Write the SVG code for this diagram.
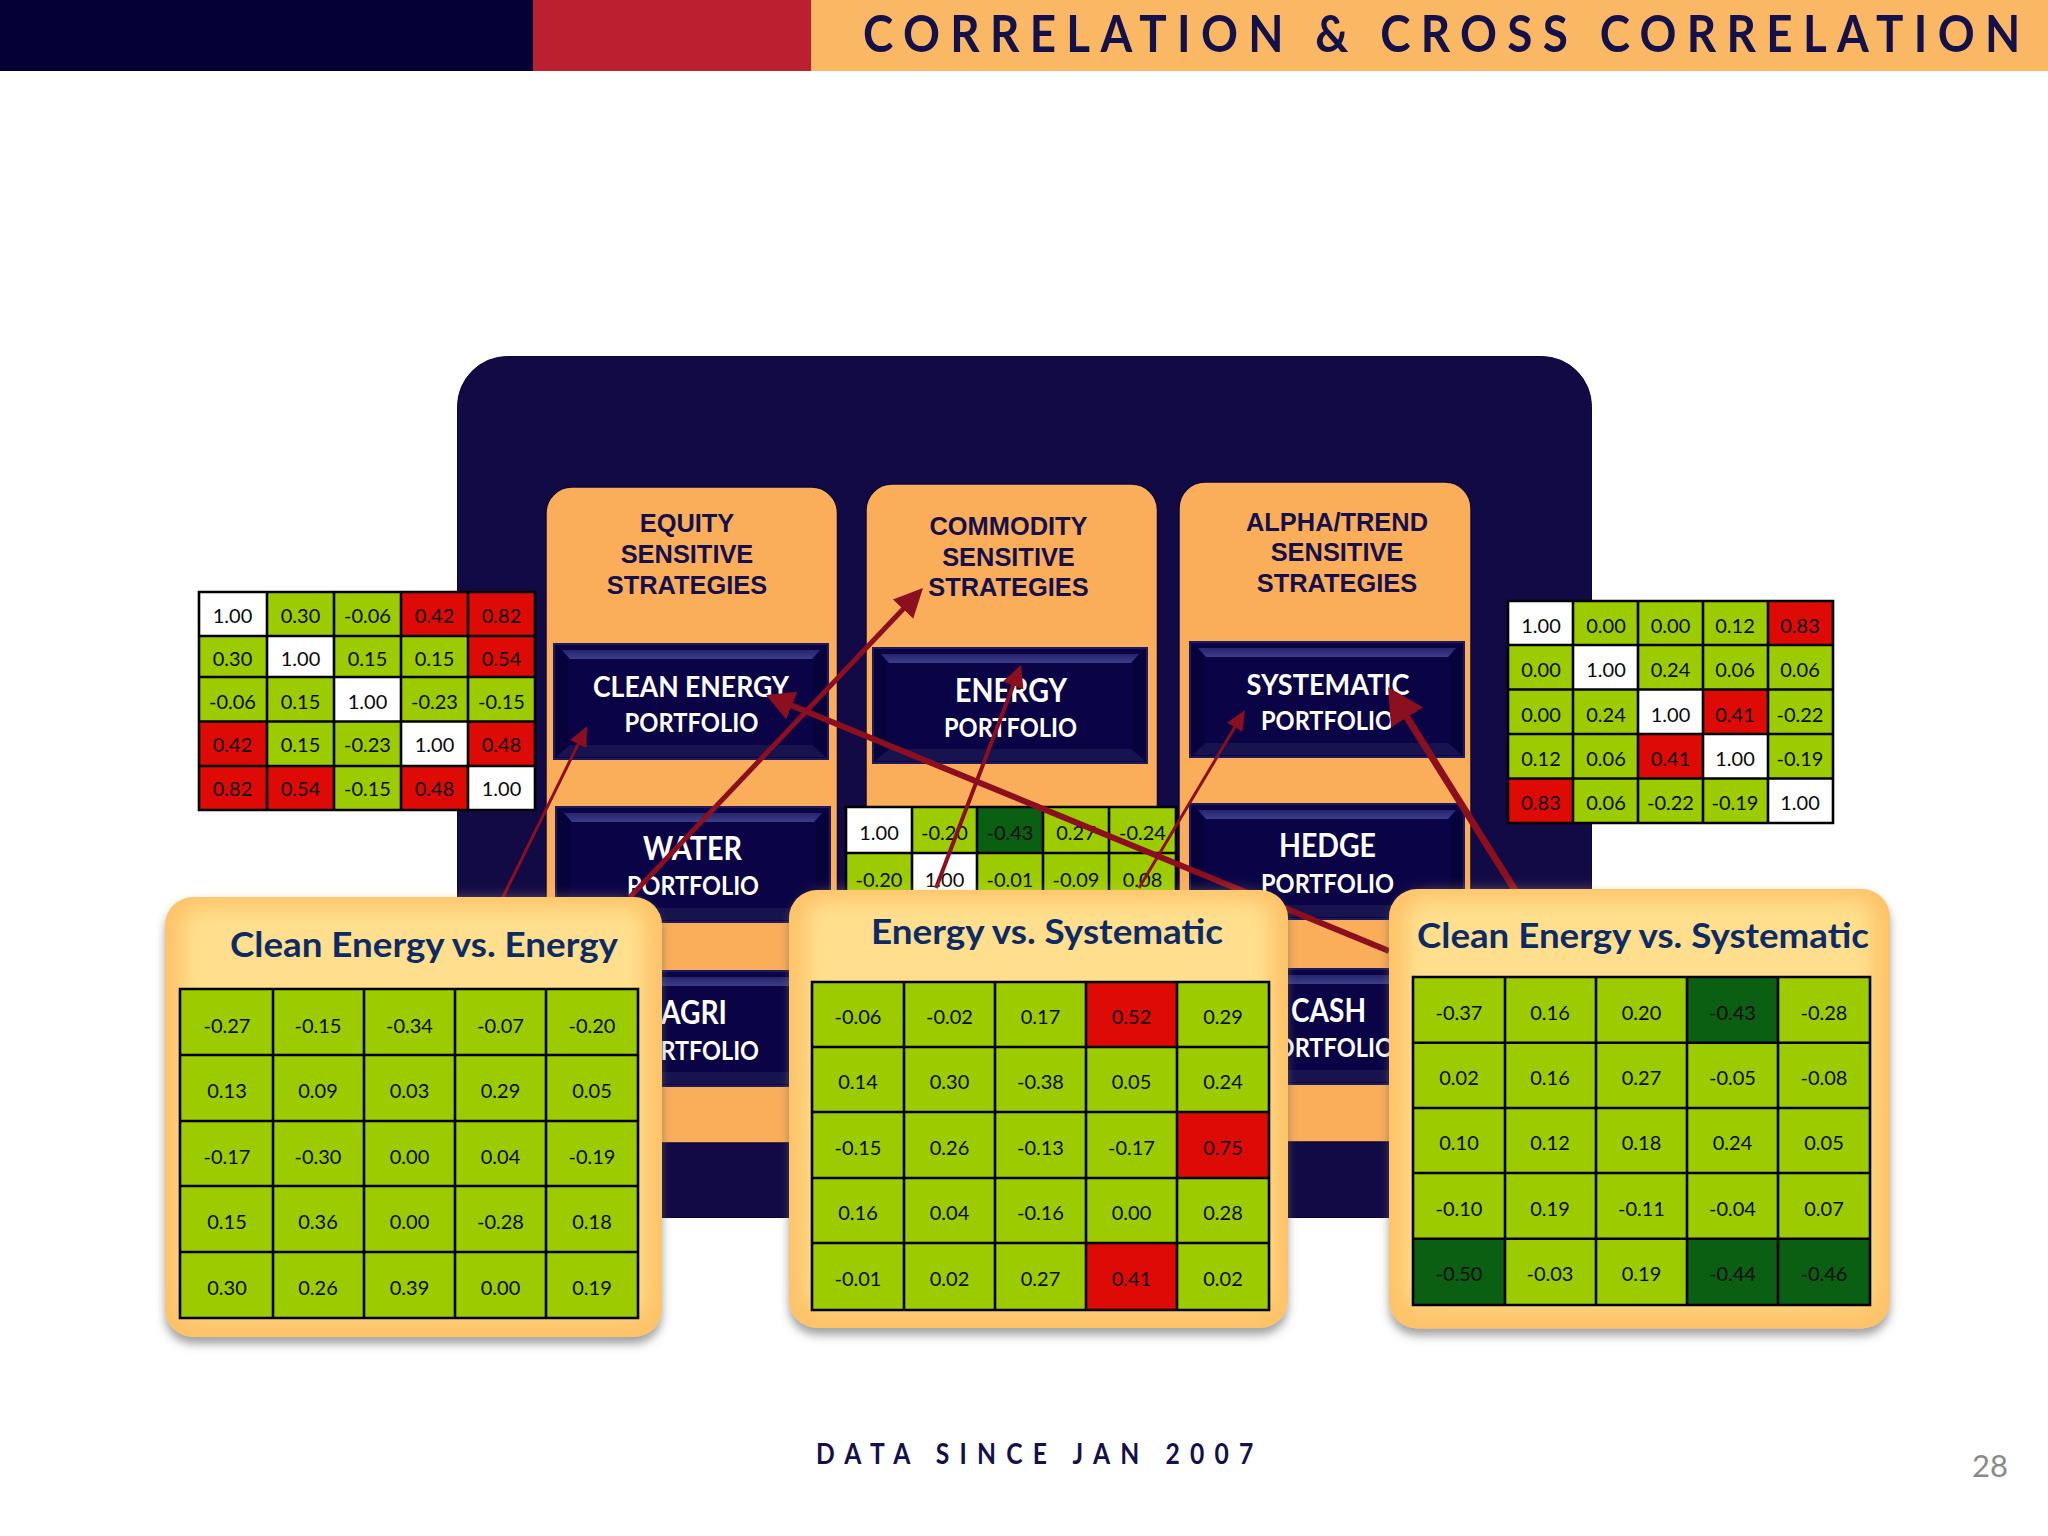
<svg xmlns="http://www.w3.org/2000/svg" xmlns:xlink="http://www.w3.org/1999/xlink" width="2048" height="1536" viewBox="0 0 2048 1536">
<style>
text{font-family:"Lato","Open Sans",sans-serif}
.n{font-size:20px;fill:#0a0a0a;text-anchor:middle}
.h{font-family:"Liberation Sans",Arial,sans-serif;font-size:25.4px;font-weight:700;fill:#15104d;text-anchor:middle}
.b{font-size:29px;font-weight:700;fill:#fff;text-anchor:middle}
.p{font-size:26px;font-weight:700;fill:#fff;text-anchor:middle}
.t{font-size:34px;font-weight:700;fill:#0c2b66;text-anchor:middle}
.g{fill:#9ccc00}.r{fill:#dd0a05}.w{fill:#fff}.d{fill:#0a5f12}
.grid{fill:none;stroke:#000;stroke-width:2.6}
.col{fill:#fbae5a;stroke:#0c0640;stroke-width:1.5}
.a{stroke:#8b0f1f;fill:none}
.ah{fill:#8b0f1f}
</style>
<defs>
<linearGradient id="topb" x1="0" y1="0" x2="0" y2="1"><stop offset="0" stop-color="#26266e"/><stop offset="1" stop-color="#3c3c88"/></linearGradient>
<filter id="sh" x="-5%" y="-5%" width="110%" height="112%"><feDropShadow dx="0" dy="7" stdDeviation="5" flood-color="#555" flood-opacity=".55"/></filter>
<filter id="bl" x="-10%" y="-10%" width="120%" height="120%"><feGaussianBlur stdDeviation="10"/></filter>
<g id="bevel">
<rect width="274" height="115" fill="#0a0345"/>
<rect width="274" height="115" fill="none" stroke="#1c1a5c" stroke-width="2"/>
<polygon points="8,6 266,6 258,15 16,15" fill="url(#topb)"/>
<polygon points="2,113 272,113 258,101 16,101" fill="#17134f"/>
<polygon points="2,2 14,15 14,100 2,113" fill="#06023a"/>
<polygon points="272,2 260,15 260,100 272,113" fill="#06023a"/>
</g>
<marker id="m1" markerUnits="userSpaceOnUse" markerWidth="24" markerHeight="20" refX="4" refY="10" orient="auto"><path class="ah" d="M0,1 L20,10 L0,19z"/></marker>
<marker id="m2" markerUnits="userSpaceOnUse" markerWidth="32" markerHeight="30" refX="4" refY="15" orient="auto"><path class="ah" d="M0,1 L29,15 L0,29z"/></marker>
<marker id="m3" markerUnits="userSpaceOnUse" markerWidth="26" markerHeight="24" refX="4" refY="12" orient="auto"><path class="ah" d="M0,1 L22,12 L0,23z"/></marker>
<marker id="m5" markerUnits="userSpaceOnUse" markerWidth="40" markerHeight="40" refX="4" refY="20" orient="auto"><path class="ah" d="M0,1 L36,20 L0,39z"/></marker>
<marker id="m6" markerUnits="userSpaceOnUse" markerWidth="32" markerHeight="32" refX="4" refY="16" orient="auto"><path class="ah" d="M0,1 L28,16 L0,31z"/></marker>
</defs>
<rect width="2048" height="1536" fill="#fff"/>
<g id="header">
<rect x="0" y="0" width="533" height="71" fill="#050035"/>
<rect x="533" y="0" width="278" height="71" fill="#ba2030"/>
<rect x="811" y="0" width="1237" height="71" fill="#fbb864"/>
<text transform="translate(863 52) scale(.88 1)" font-size="52" font-weight="700" fill="#14104a" textLength="1315" lengthAdjust="spacing">CORRELATION &amp; CROSS CORRELATION</text>
</g>
<rect id="panel" x="457.5" y="356.5" width="1134" height="861" rx="50" fill="#120a45" stroke="#0a0340" stroke-width="1"/>
<g id="col-equity"><rect class="col" x="546" y="487" width="291.5" height="656" rx="26"/>
<text class="h" x="687" y="532">EQUITY</text><text class="h" x="687" y="563">SENSITIVE</text><text class="h" x="687" y="594">STRATEGIES</text></g>
<g id="col-commodity"><rect class="col" x="866" y="484" width="291.5" height="659" rx="26"/>
<text class="h" x="1008.5" y="535">COMMODITY</text><text class="h" x="1008.5" y="566">SENSITIVE</text><text class="h" x="1008.5" y="596">STRATEGIES</text></g>
<g id="col-alpha"><rect class="col" x="1179" y="482" width="292" height="660" rx="26"/>
<text class="h" x="1337" y="531">ALPHA/TREND</text><text class="h" x="1337" y="561">SENSITIVE</text><text class="h" x="1337" y="592">STRATEGIES</text></g>
<g id="box-clean"><use xlink:href="#bevel" href="#bevel" x="554" y="644"/><text class="b" x="691" y="697" textLength="196" lengthAdjust="spacingAndGlyphs">CLEAN ENERGY</text><text class="p" x="691.5" y="732" textLength="134" lengthAdjust="spacingAndGlyphs">PORTFOLIO</text></g>
<g id="box-water"><use xlink:href="#bevel" href="#bevel" x="556" y="807"/><text class="b" x="692.5" y="860" style="font-size:32px" textLength="99" lengthAdjust="spacingAndGlyphs">WATER</text><text class="p" x="693" y="895" textLength="132" lengthAdjust="spacingAndGlyphs">PORTFOLIO</text></g>
<g id="box-agri"><use xlink:href="#bevel" href="#bevel" x="556" y="971"/><text class="b" x="694" y="1024" style="font-size:32px" textLength="66" lengthAdjust="spacingAndGlyphs">AGRI</text><text class="p" x="693" y="1060" textLength="132" lengthAdjust="spacingAndGlyphs">PORTFOLIO</text></g>
<g id="box-energy"><use xlink:href="#bevel" href="#bevel" x="873" y="648"/><text class="b" x="1011" y="702" style="font-size:32px" textLength="112" lengthAdjust="spacingAndGlyphs">ENERGY</text><text class="p" x="1010.5" y="737" textLength="133" lengthAdjust="spacingAndGlyphs">PORTFOLIO</text></g>
<g id="box-systematic"><use xlink:href="#bevel" href="#bevel" x="1190" y="642"/><text class="b" x="1328" y="695" textLength="163" lengthAdjust="spacingAndGlyphs">SYSTEMATIC</text><text class="p" x="1327.5" y="730" textLength="133" lengthAdjust="spacingAndGlyphs">PORTFOLIO</text></g>
<g id="box-hedge"><use xlink:href="#bevel" href="#bevel" x="1190" y="804"/><text class="b" x="1327.5" y="857" style="font-size:32px" textLength="97" lengthAdjust="spacingAndGlyphs">HEDGE</text><text class="p" x="1327.5" y="893" textLength="133" lengthAdjust="spacingAndGlyphs">PORTFOLIO</text></g>
<g id="box-cash"><use xlink:href="#bevel" href="#bevel" x="1190" y="969"/><text class="b" x="1328.5" y="1022" style="font-size:32px" textLength="75" lengthAdjust="spacingAndGlyphs">CASH</text><text class="p" x="1327.5" y="1057" textLength="133" lengthAdjust="spacingAndGlyphs">PORTFOLIO</text></g>

<g id="table-left">
<rect class="g" x="199" y="592" width="336" height="218"/>
<rect class="w" x="199" y="592" width="68" height="44"/><rect class="w" x="267" y="636" width="67" height="41"/><rect class="w" x="334" y="677" width="67" height="44.5"/><rect class="w" x="401" y="721.5" width="67" height="44.5"/><rect class="w" x="468" y="766" width="67" height="44"/>
<rect class="r" x="401" y="592" width="134" height="44"/><rect class="r" x="468" y="636" width="67" height="41"/><rect class="r" x="199" y="721.5" width="68" height="44.5"/><rect class="r" x="468" y="721.5" width="67" height="44.5"/><rect class="r" x="199" y="766" width="135" height="44"/><rect class="r" x="401" y="766" width="67" height="44"/>
<path class="grid" d="M199,592H535V810H199ZM267,592V810M334,592V810M401,592V810M468,592V810M199,636H535M199,677H535M199,721.5H535M199,766H535"/>
<text class="n" x="232.5" y="623">1.00</text><text class="n" x="300.5" y="623">0.30</text><text class="n" x="367.5" y="623">-0.06</text><text class="n" x="434.5" y="623">0.42</text><text class="n" x="501.5" y="623">0.82</text>
<text class="n" x="232.5" y="666">0.30</text><text class="n" x="300.5" y="666">1.00</text><text class="n" x="367.5" y="666">0.15</text><text class="n" x="434.5" y="666">0.15</text><text class="n" x="501.5" y="666">0.54</text>
<text class="n" x="232.5" y="709">-0.06</text><text class="n" x="300.5" y="709">0.15</text><text class="n" x="367.5" y="709">1.00</text><text class="n" x="434.5" y="709">-0.23</text><text class="n" x="501.5" y="709">-0.15</text>
<text class="n" x="232.5" y="752">0.42</text><text class="n" x="300.5" y="752">0.15</text><text class="n" x="367.5" y="752">-0.23</text><text class="n" x="434.5" y="752">1.00</text><text class="n" x="501.5" y="752">0.48</text>
<text class="n" x="232.5" y="796">0.82</text><text class="n" x="300.5" y="796">0.54</text><text class="n" x="367.5" y="796">-0.15</text><text class="n" x="434.5" y="796">0.48</text><text class="n" x="501.5" y="796">1.00</text>
</g>

<g id="table-middle">
<rect class="g" x="846" y="807" width="330" height="90"/>
<rect class="w" x="846" y="807" width="66" height="46"/><rect class="w" x="912" y="853" width="65" height="44"/><rect class="d" x="977" y="807" width="66" height="46"/>
<path class="grid" d="M846,897V807H1176V897M912,807V897M977,807V897M1043,807V897M1109,807V897M846,853H1176"/>
<text class="n" x="879" y="840">1.00</text><text class="n" x="944.5" y="840">-0.20</text><text class="n" x="1010" y="840">-0.43</text><text class="n" x="1076" y="840">0.27</text><text class="n" x="1142.5" y="840">-0.24</text>
<text class="n" x="879" y="887">-0.20</text><text class="n" x="944.5" y="887">1.00</text><text class="n" x="1010" y="887">-0.01</text><text class="n" x="1076" y="887">-0.09</text><text class="n" x="1142.5" y="887">0.08</text>
</g>

<g id="table-right">
<rect class="g" x="1508" y="601" width="325" height="222"/>
<rect class="w" x="1508" y="601" width="65" height="44"/><rect class="w" x="1573" y="645" width="65" height="44.5"/><rect class="w" x="1638" y="689.5" width="65" height="44.5"/><rect class="w" x="1703" y="734" width="65" height="44.5"/><rect class="w" x="1768" y="778.5" width="65" height="44.5"/>
<rect class="r" x="1768" y="601" width="65" height="44"/><rect class="r" x="1703" y="689.5" width="65" height="44.5"/><rect class="r" x="1638" y="734" width="65" height="44.5"/><rect class="r" x="1508" y="778.5" width="65" height="44.5"/>
<path class="grid" d="M1508,601H1833V823H1508ZM1573,601V823M1638,601V823M1703,601V823M1768,601V823M1508,645H1833M1508,689.5H1833M1508,734H1833M1508,778.5H1833"/>
<text class="n" x="1541" y="633">1.00</text><text class="n" x="1606" y="633">0.00</text><text class="n" x="1670.5" y="633">0.00</text><text class="n" x="1735" y="633">0.12</text><text class="n" x="1800" y="633">0.83</text>
<text class="n" x="1541" y="677">0.00</text><text class="n" x="1606" y="677">1.00</text><text class="n" x="1670.5" y="677">0.24</text><text class="n" x="1735" y="677">0.06</text><text class="n" x="1800" y="677">0.06</text>
<text class="n" x="1541" y="721.5">0.00</text><text class="n" x="1606" y="721.5">0.24</text><text class="n" x="1670.5" y="721.5">1.00</text><text class="n" x="1735" y="721.5">0.41</text><text class="n" x="1800" y="721.5">-0.22</text>
<text class="n" x="1541" y="766">0.12</text><text class="n" x="1606" y="766">0.06</text><text class="n" x="1670.5" y="766">0.41</text><text class="n" x="1735" y="766">1.00</text><text class="n" x="1800" y="766">-0.19</text>
<text class="n" x="1541" y="810">0.83</text><text class="n" x="1606" y="810">0.06</text><text class="n" x="1670.5" y="810">-0.22</text><text class="n" x="1735" y="810">-0.19</text><text class="n" x="1800" y="810">1.00</text>
</g>

<g id="connectors">
<line class="a" stroke-width="3" x1="503" y1="897" x2="580" y2="740.4" marker-end="url(#m1)"/>
<line class="a" stroke-width="5" x1="630" y1="897" x2="905.8" y2="606.2" marker-end="url(#m2)"/>
<line class="a" stroke-width="4" x1="936" y1="888" x2="1014.6" y2="681.8" marker-end="url(#m3)"/>
<line class="a" stroke-width="3" x1="1139" y1="888" x2="1236.8" y2="723.8" marker-end="url(#m1)"/>
<line class="a" stroke-width="7" x1="1515" y1="890" x2="1405" y2="714.1" marker-end="url(#m5)"/>
<line class="a" stroke-width="6" x1="1389" y1="951" x2="788.2" y2="704.1" marker-end="url(#m6)"/>
</g>

<g id="card-1">
<rect x="165" y="897" width="497" height="440" rx="28" fill="#fdc369" filter="url(#sh)"/>
<rect x="182" y="907" width="463" height="409" rx="20" fill="#ffdf8d" filter="url(#bl)"/>
<text class="t" x="424" y="957" textLength="388" lengthAdjust="spacingAndGlyphs">Clean Energy vs. Energy</text>
<rect class="g" x="180" y="989" width="458" height="329"/>
<path class="grid" d="M180,989H638V1318H180ZM273,989V1318M364,989V1318M455,989V1318M546,989V1318M180,1055H638M180,1121H638M180,1186H638M180,1252H638"/>
<text class="n" x="227" y="1033">-0.27</text><text class="n" x="318" y="1033">-0.15</text><text class="n" x="409.5" y="1033">-0.34</text><text class="n" x="500.5" y="1033">-0.07</text><text class="n" x="592" y="1033">-0.20</text>
<text class="n" x="227" y="1098">0.13</text><text class="n" x="318" y="1098">0.09</text><text class="n" x="409.5" y="1098">0.03</text><text class="n" x="500.5" y="1098">0.29</text><text class="n" x="592" y="1098">0.05</text>
<text class="n" x="227" y="1164">-0.17</text><text class="n" x="318" y="1164">-0.30</text><text class="n" x="409.5" y="1164">0.00</text><text class="n" x="500.5" y="1164">0.04</text><text class="n" x="592" y="1164">-0.19</text>
<text class="n" x="227" y="1229">0.15</text><text class="n" x="318" y="1229">0.36</text><text class="n" x="409.5" y="1229">0.00</text><text class="n" x="500.5" y="1229">-0.28</text><text class="n" x="592" y="1229">0.18</text>
<text class="n" x="227" y="1295">0.30</text><text class="n" x="318" y="1295">0.26</text><text class="n" x="409.5" y="1295">0.39</text><text class="n" x="500.5" y="1295">0.00</text><text class="n" x="592" y="1295">0.19</text>
</g>

<g id="card-2">
<rect x="789" y="890" width="499" height="438" rx="28" fill="#fdc369" filter="url(#sh)"/>
<rect x="806" y="900" width="465" height="407" rx="20" fill="#ffdf8d" filter="url(#bl)"/>
<text class="t" x="1047" y="944" textLength="352" lengthAdjust="spacingAndGlyphs">Energy vs. Systematic</text>
<rect class="g" x="812" y="982" width="457" height="328"/>
<rect class="r" x="1086" y="982" width="91" height="65"/><rect class="r" x="1177" y="1112" width="92" height="66"/><rect class="r" x="1086" y="1243" width="91" height="67"/>
<path class="grid" d="M812,982H1269V1310H812ZM904,982V1310M995,982V1310M1086,982V1310M1177,982V1310M812,1047H1269M812,1112H1269M812,1178H1269M812,1243H1269"/>
<text class="n" x="858" y="1024">-0.06</text><text class="n" x="949.5" y="1024">-0.02</text><text class="n" x="1040.5" y="1024">0.17</text><text class="n" x="1131.5" y="1024">0.52</text><text class="n" x="1223" y="1024">0.29</text>
<text class="n" x="858" y="1089">0.14</text><text class="n" x="949.5" y="1089">0.30</text><text class="n" x="1040.5" y="1089">-0.38</text><text class="n" x="1131.5" y="1089">0.05</text><text class="n" x="1223" y="1089">0.24</text>
<text class="n" x="858" y="1155">-0.15</text><text class="n" x="949.5" y="1155">0.26</text><text class="n" x="1040.5" y="1155">-0.13</text><text class="n" x="1131.5" y="1155">-0.17</text><text class="n" x="1223" y="1155">0.75</text>
<text class="n" x="858" y="1220">0.16</text><text class="n" x="949.5" y="1220">0.04</text><text class="n" x="1040.5" y="1220">-0.16</text><text class="n" x="1131.5" y="1220">0.00</text><text class="n" x="1223" y="1220">0.28</text>
<text class="n" x="858" y="1286">-0.01</text><text class="n" x="949.5" y="1286">0.02</text><text class="n" x="1040.5" y="1286">0.27</text><text class="n" x="1131.5" y="1286">0.41</text><text class="n" x="1223" y="1286">0.02</text>
</g>

<g id="card-3">
<rect x="1389" y="889" width="501" height="439.5" rx="28" fill="#fdc369" filter="url(#sh)"/>
<rect x="1406" y="899" width="467" height="408" rx="20" fill="#ffdf8d" filter="url(#bl)"/>
<text class="t" x="1643" y="948" textLength="452" lengthAdjust="spacingAndGlyphs">Clean Energy vs. Systematic</text>
<rect class="g" x="1413" y="977" width="457" height="328"/>
<rect class="d" x="1687" y="977" width="91" height="65.7"/><rect class="d" x="1413" y="1238.7" width="92" height="66.3"/><rect class="d" x="1687" y="1238.7" width="183" height="66.3"/>
<path class="grid" d="M1413,977H1870V1305H1413ZM1505,977V1305M1596,977V1305M1687,977V1305M1778,977V1305M1413,1042.7H1870M1413,1108H1870M1413,1173H1870M1413,1238.7H1870"/>
<text class="n" x="1459" y="1019.5">-0.37</text><text class="n" x="1550" y="1019.5">0.16</text><text class="n" x="1641.5" y="1019.5">0.20</text><text class="n" x="1732.5" y="1019.5">-0.43</text><text class="n" x="1824" y="1019.5">-0.28</text>
<text class="n" x="1459" y="1085">0.02</text><text class="n" x="1550" y="1085">0.16</text><text class="n" x="1641.5" y="1085">0.27</text><text class="n" x="1732.5" y="1085">-0.05</text><text class="n" x="1824" y="1085">-0.08</text>
<text class="n" x="1459" y="1150">0.10</text><text class="n" x="1550" y="1150">0.12</text><text class="n" x="1641.5" y="1150">0.18</text><text class="n" x="1732.5" y="1150">0.24</text><text class="n" x="1824" y="1150">0.05</text>
<text class="n" x="1459" y="1216">-0.10</text><text class="n" x="1550" y="1216">0.19</text><text class="n" x="1641.5" y="1216">-0.11</text><text class="n" x="1732.5" y="1216">-0.04</text><text class="n" x="1824" y="1216">0.07</text>
<text class="n" x="1459" y="1281">-0.50</text><text class="n" x="1550" y="1281">-0.03</text><text class="n" x="1641.5" y="1281">0.19</text><text class="n" x="1732.5" y="1281">-0.44</text><text class="n" x="1824" y="1281">-0.46</text>
</g>

<g id="footer">
<text transform="translate(816 1464) scale(.88 1)" font-size="28" font-weight="700" fill="#14104a" textLength="497" lengthAdjust="spacing">DATA SINCE JAN 2007</text>
<text x="1972" y="1477" font-size="31" fill="#8a8a8a">28</text>
</g>
</svg>
